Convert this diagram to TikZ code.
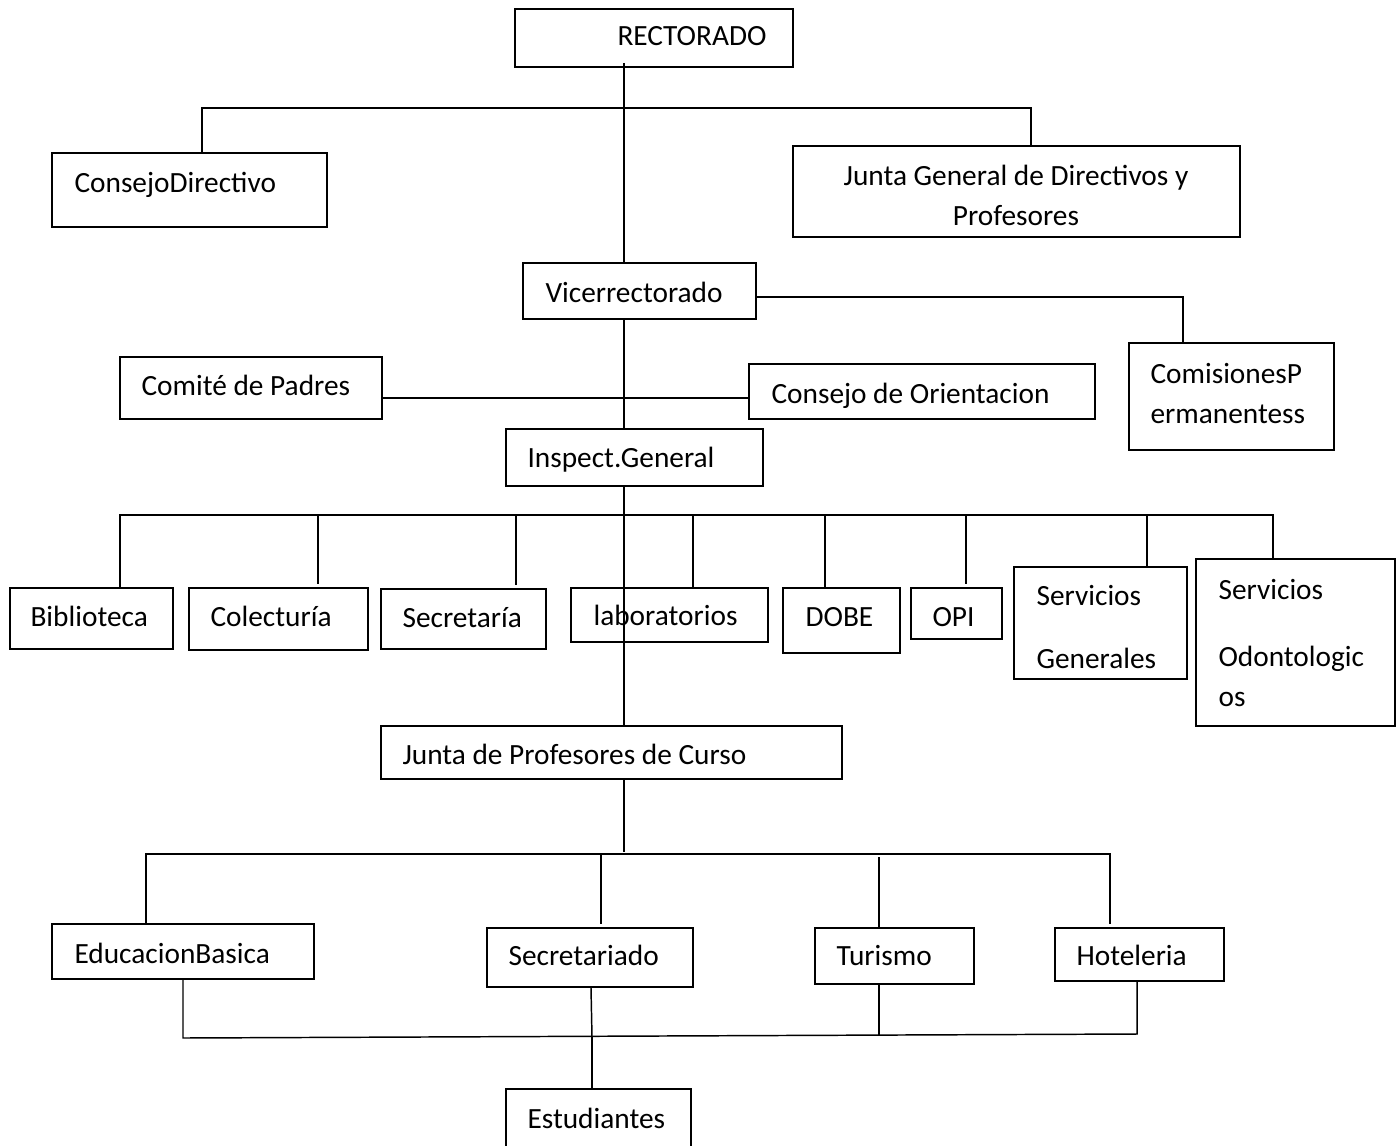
\documentclass[tikz,border=0pt]{standalone}
\usepackage{fontspec}
\setmainfont{Carlito}
\usetikzlibrary{calc}

\begin{document}
\begin{tikzpicture}[x=0.375pt,y=-0.375pt,
    box/.style={draw, line width=0.75pt, inner sep=0pt},
    txt/.style={anchor=base west, inner sep=0pt, align=left, font=\fontsize{11pt}{15pt}\selectfont},
    link/.style={line width=0.55pt}]
    \useasboundingbox (0,0) rectangle (1398,1145);
    \clip (0,0) rectangle (1398,1145);
    \coordinate (spine) at (624,0);

    % cajas
    \foreach \nm/\xa/\ya/\xb/\yb in {rect/515/9/793/67, cdir/52/153/327/227, jgen/793/146/1240/237,
        vice/523/263/756/319, comis/1129/343/1334/450, cpad/120/357/382/419, corient/749/364/1095/419,
        insp/506/429/763/486, bibl/10/588/173/649, colec/189/588/368/650, secr/381/589/546/649,
        labs/571/588/768/642, dobe/783/588/900/653, opi/911/588/1002/639, sgen/1014/567/1187/679,
        sodon/1196/559/1395/726, jprof/381/726/842/779, edub/52/924/314/979, secdo/487/928/693/987,
        tur/815/928/974/984, hotel/1055/928/1224/981, estud/506/1089/691/1180} {
        \node[box, minimum width={(\xb-\xa)*0.375pt}, minimum height={(\yb-\ya)*0.375pt}]
            (\nm) at ({(\xa+\xb)/2},{(\ya+\yb)/2}) {};
    }

    % textos (y = linea base de la ultima linea)
    \foreach \nm/\tx/\ty/\t in {rect/617/46/RECTORADO, cdir/74/192/ConsejoDirectivo,
        vice/545/302/Vicerrectorado, comis/1150/423/{ComisionesP\\ermanentess},
        cpad/141/395/Comité de Padres, corient/771/403/Consejo de Orientacion,
        insp/527/467/Inspect.General, bibl/30/626/Biblioteca, colec/210/626/Colecturía,
        secr/402/627/Secretaría, labs/593/625/laboratorios, dobe/805/626/DOBE, opi/932/626/OPI,
        sgen/1036/668/{Servicios\\[8.3pt]Generales}, sodon/1218/706/{Servicios\\[10.1pt]Odontologic\\os},
        jprof/402/764/Junta de Profesores de Curso, edub/74/963/EducacionBasica,
        secdo/508/965/Secretariado, tur/836/965/Turismo, hotel/1076/965/Hoteleria,
        estud/527/1128/Estudiantes} {
        \node[txt] (\nm-t) at (\tx,\ty) {\t};
    }
    \node[txt, anchor=base, align=center] (jgen-t) at (1016,226) {Junta General de Directivos y\\Profesores};

    % lineas
    \draw[link] ($(rect.south -| spine)+(0,-5)$) -- (vice.north -| spine);
    \draw[link] (cdir.north -| 202,0) |- (1031,108) -- (jgen.north -| 1031,0);
    \draw[link] (vice.east |- 0,297) -| (comis.north -| 1183,0);
    \draw[link] (vice.south -| spine) -- (insp.north -| spine);
    \draw[link] (cpad.east |- 0,398) -- (corient.west |- 0,398);
    \draw[link] (insp.south -| spine) -- (jprof.north -| spine);

    \draw[link] (bibl.north -| 120,0) |- (1273,515) -- (sodon.north -| 1273,0);
    \foreach \c/\x/\g in {colec/318/3, secr/516/3, labs/693/0, dobe/825/0, opi/966/3, sgen/1147/0} {
        \draw[link] (\x,515) -- ($(\c.north -| \x,0)+(0,-\g)$);
    }

    \draw[link] (jprof.south -| spine) -- (624,852);
    \draw[link] (edub.north -| 146,0) |- (1110,854) -- ($(hotel.north -| 1110,0)+(0,-3)$);
    \draw[link] (601,854) -- ($(secdo.north -| 601,0)+(0,-3)$);
    \draw[link] (879,857) -- (tur.north -| 879,0);

    \draw[link] (edub.south -| 183,0) -- (183,1038) -- (1137,1034) -- (hotel.south -| 1137,0);
    \draw[link] (secdo.south -| 591,0) -- (592,1037);
    \draw[link] (tur.south -| 879,0) -- (879,1035);
    \draw[link] (592,1037) -- (estud.north -| 592,0);
\end{tikzpicture}
\end{document}
